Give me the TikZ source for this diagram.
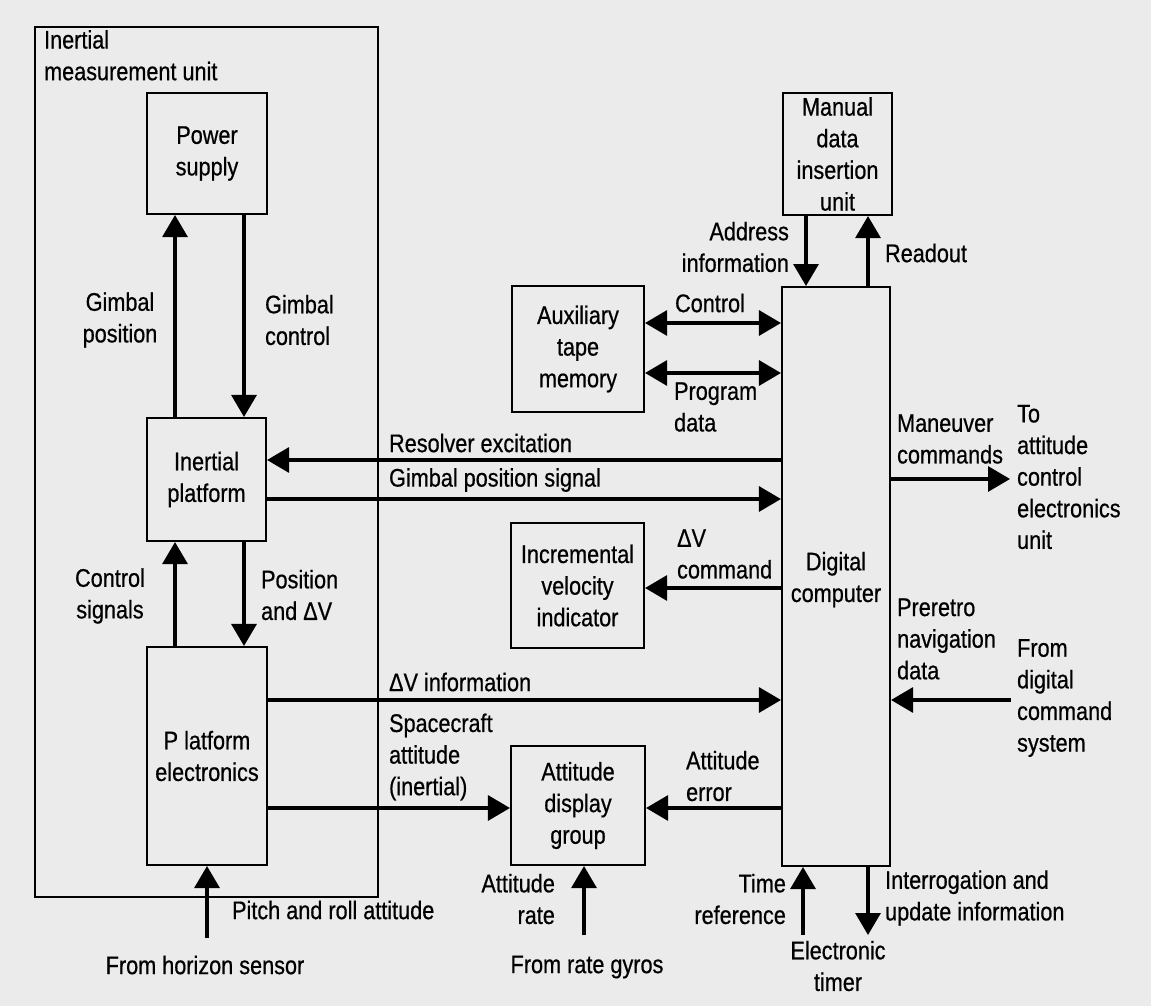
\documentclass[tikz,border=0pt]{standalone}
\usepackage{fontspec}
\setmainfont{Liberation Sans}[FakeStretch=0.85, FakeBold=0.6]
\usetikzlibrary{arrows.meta}

\begin{document}
\begin{tikzpicture}[x=0.02cm, y=-0.02cm,
    every node/.style={font=\fontsize{14.5}{18}\selectfont, inner sep=1pt},
    unit/.style={draw, line width=1.2pt, inner sep=0pt, align=center},
    sig/.style={line width=1.8pt, -{Triangle[length=0.44cm, width=0.5cm]}},
    twoway/.style={line width=1.8pt, {Triangle[length=0.44cm, width=0.5cm]}-{Triangle[length=0.44cm, width=0.5cm]}},
    lab/.style={align=left, anchor=west}]
      \fill[black!8] (0, 0) rectangle (1151, 1006);
      \useasboundingbox (0, 0) rectangle (1151, 1006);
      % inertial measurement unit
      \draw[line width=1.2pt] (35, 27) rectangle (378, 897);
      \node (imu) [anchor=north west, align=left] at (42, 28) {Inertial\\measurement unit};
      \node (ps) [unit, minimum width=2.4cm, minimum height=2.42cm] at (207, 153.5) {Power\\supply};
      \node (ip) [unit, minimum width=2.38cm, minimum height=2.46cm] at (206.5, 479.5) {Inertial\\platform};
      \node (pe) [unit, minimum width=2.4cm, minimum height=4.36cm] at (207, 756) {P latform\\electronics};
      % other units
      \node (aux) [unit, minimum width=2.64cm, minimum height=2.52cm] at (578, 349) {Auxiliary\\tape\\memory};
      \node (ivi) [unit, minimum width=2.66cm, minimum height=2.5cm] at (577.5, 585.5) {Incremental\\velocity\\indicator};
      \node (adg) [unit, minimum width=2.68cm, minimum height=2.38cm] at (578, 805.5) {Attitude\\display\\group};
      \node (mdi) [unit, minimum width=2.18cm, minimum height=2.44cm] at (837.5, 154) {Manual\\data\\insertion\\unit};
      \node (dc) [unit, minimum width=2.16cm, minimum height=11.58cm] at (836, 576.5) {\\[-4pt]Digital\\computer};
      % where the lines run
      \coordinate (xa) at (175, 0);   \coordinate (xb) at (244, 0);
      \coordinate (xc) at (806, 0);   \coordinate (xd) at (868, 0);
      \coordinate (yctl) at (0, 323); \coordinate (yprg) at (0, 373);
      \coordinate (yres) at (0, 460); \coordinate (ygps) at (0, 499);
      \coordinate (ydvc) at (0, 588); \coordinate (ydvi) at (0, 700);
      \coordinate (yatt) at (0, 808);
      \coordinate (man) at (1010, 479); \coordinate (dcs) at (1011, 700);
      \coordinate (hor) at (207, 938);  \coordinate (gyr) at (584, 935);
      \coordinate (tmr) at (803, 935);  \coordinate (upd) at (868, 935);
      \draw[sig] (ip.north -| xa) -- (ps.south -| xa);
      \draw[sig] (ps.south -| xb) -- (ip.north -| xb);
      \draw[sig] (pe.north -| xa) -- (ip.south -| xa);
      \draw[sig] (ip.south -| xb) -- (pe.north -| xb);
      \draw[sig] (dc.west |- yres) -- (ip.east |- yres);
      \draw[sig] (ip.east |- ygps) -- (dc.west |- ygps);
      \draw[twoway] (aux.east |- yctl) -- (dc.west |- yctl);
      \draw[twoway] (aux.east |- yprg) -- (dc.west |- yprg);
      \draw[sig] (dc.west |- ydvc) -- (ivi.east |- ydvc);
      \draw[sig] (pe.east |- ydvi) -- (dc.west |- ydvi);
      \draw[sig] (pe.east |- yatt) -- (adg.west |- yatt);
      \draw[sig] (dc.west |- yatt) -- (adg.east |- yatt);
      \draw[sig] (mdi.south -| xc) -- (dc.north -| xc);
      \draw[sig] (dc.north -| xd) -- (mdi.south -| xd);
      \draw[sig] (dc.east |- man) -- (man);
      \draw[sig] (dcs) -- (dc.east |- dcs);
      \draw[sig] (hor) -- (pe.south -| hor);
      \draw[sig] (gyr) -- (adg.south -| gyr);
      \draw[sig] (tmr) -- (dc.south -| tmr);
      \draw[sig] (dc.south -| upd) -- (upd);
      % labels
      \node (lgp) [align=center] at (120, 320) {Gimbal\\position};
      \node (lgc) [lab] at (263, 320) {Gimbal\\control};
      \node (lcs) [align=center] at (110, 596) {Control\\signals};
      \node (lpd) [lab] at (259, 595) {Position\\and ΔV};
      \node (lres) [lab] at (387, 443) {Resolver excitation};
      \node (lgps) [lab] at (387, 480) {Gimbal position signal};
      \node (lctl) at (710, 303) {Control};
      \node (lprg) [lab] at (672, 407) {Program\\data};
      \node (ladr) [anchor=east, align=right] at (791, 247) {Address\\information};
      \node (lrdo) [lab] at (883, 253) {Readout};
      \node (ldvc) [lab] at (675, 554) {ΔV\\command};
      \node (lman) [lab] at (895, 439) {Maneuver\\commands};
      \node (lto) [lab] at (1015, 477) {To\\attitude\\control\\electronics\\unit};
      \node (lpre) [lab] at (895, 639) {Preretro\\navigation\\data};
      \node (lfrm) [lab] at (1015, 698) {From\\digital\\command\\system};
      \node (ldvi) [lab] at (387, 682) {ΔV information};
      \node (lsca) [lab] at (387, 757) {Spacecraft\\attitude\\(inertial)};
      \node (lerr) [lab] at (684, 776) {Attitude\\error};
      \node (lpit) [lab] at (230, 910) {Pitch and roll attitude};
      \node (lhor) at (205, 965) {From horizon sensor};
      \node (lrat) [anchor=east, align=right] at (557, 899) {Attitude\\rate};
      \node (lgyr) at (587, 967) {From rate gyros};
      \node (ltim) [anchor=east, align=right] at (788, 899) {Time\\reference};
      \node (ltmr) [align=center] at (838, 966) {Electronic\\timer};
      \node (lint) [lab] at (883, 898) {Interrogation and\\update information};
\end{tikzpicture}
\end{document}
